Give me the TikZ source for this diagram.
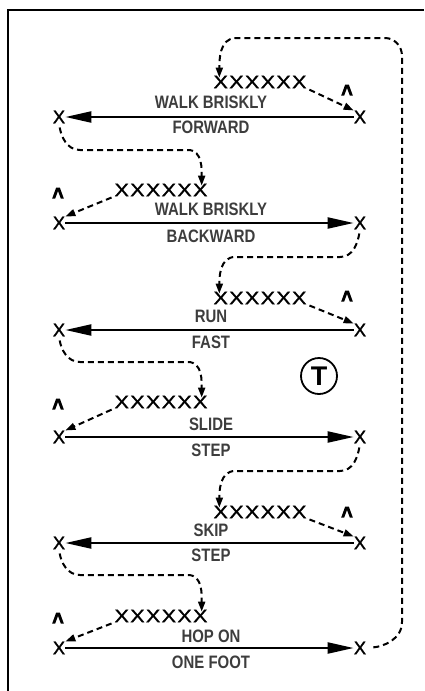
\documentclass[tikz,border=0pt]{standalone}
\usepackage{fontspec}
\setmainfont{Liberation Sans}
\newfontfamily\condfont[FakeStretch=0.83]{Liberation Sans Bold}
\newfontfamily\widefont[FakeStretch=1.2,FakeBold=1.3]{Liberation Sans}
\newfontfamily\spotfont[FakeBold=1.3]{Liberation Sans}
\usetikzlibrary{arrows.meta}
% a file of six players
\newcommand{\sixx}{X\kern1.3pt X\kern1.3pt X\kern1.3pt X\kern1.3pt X\kern1.3pt X}
\tikzset{
  caret/.pic={\fill (-5.8,5.5) -- (-1.8,-5.5) -- (1.8,-5.5) -- (5.8,5.5) -- (2.8,5.5) -- (0,-2) -- (-2.8,5.5) -- cycle;}
}
\begin{document}
\begin{tikzpicture}[x=1pt,y=-1pt,
  spot/.style={inner sep=0pt, font=\spotfont\fontsize{18.5}{18.5}\selectfont},
  crowd/.style={inner sep=0pt, font=\widefont\fontsize{18}{18}\selectfont},
  drill/.style={inner sep=0pt, font=\condfont\fontsize{18}{18}\selectfont, text=black!76},
  run/.style={line width=2.2pt, -{Triangle[length=26pt,width=11pt]}},
  trail/.style={line width=2pt, dash pattern=on 6pt off 4pt, -{Triangle[length=10pt,width=7pt]}},
]
\useasboundingbox (0,0) rectangle (424,691);

% frame
\draw[line width=2.6pt, line join=miter] (8,691) -- (8,10) -- (424,10);

% coach
\node[circle, draw, line width=1.8pt, minimum size=36pt, inner sep=0pt,
      font=\bfseries\fontsize{27}{27}\selectfont] (coach) at (319,376) {T};

% ---- row 1: walk briskly forward (right to left)
\node[spot] (a1) at (59,117) {X};
\node[spot] (b1) at (360,117) {X};
\draw[run] (b1) -- (a1);
\node[drill] (t1) at (211,102) {WALK BRISKLY};
\node[drill] (u1) at (211,127) {FORWARD};
\node[crowd] (g1) at (260,82) {\sixx};
\pic at (347,90) {caret};
\draw[trail, shorten <=3pt] (g1.south east) -- (b1.north west);

% ---- row 2: walk briskly backward (left to right)
\node[spot] (a2) at (59,223) {X};
\node[spot] (b2) at (360,223) {X};
\draw[run] (a2) -- (b2);
\node[drill] (t2) at (211,209) {WALK BRISKLY};
\node[drill] (u2) at (211,236) {BACKWARD};
\node[crowd] (g2) at (161,190) {\sixx};
\pic at (58,193) {caret};
\draw[trail, shorten <=3pt] (g2.south west) -- (a2.north east);

% ---- row 3: run fast
\node[spot] (a3) at (59,330) {X};
\node[spot] (b3) at (360,330) {X};
\draw[run] (b3) -- (a3);
\node[drill] (t3) at (211,316) {RUN};
\node[drill] (u3) at (211,342) {FAST};
\node[crowd] (g3) at (260,298) {\sixx};
\pic at (347,296) {caret};
\draw[trail, shorten <=3pt] (g3.south east) -- (b3.north west);

% ---- row 4: slide step
\node[spot] (a4) at (59,437) {X};
\node[spot] (b4) at (360,437) {X};
\draw[run] (a4) -- (b4);
\node[drill] (t4) at (211,424) {SLIDE};
\node[drill] (u4) at (211,450) {STEP};
\node[crowd] (g4) at (161,402) {\sixx};
\pic at (58,404) {caret};
\draw[trail, shorten <=3pt] (g4.south west) -- (a4.north east);

% ---- row 5: skip step
\node[spot] (a5) at (59,543) {X};
\node[spot] (b5) at (360,543) {X};
\draw[run] (b5) -- (a5);
\node[drill] (t5) at (211,530) {SKIP};
\node[drill] (u5) at (211,555) {STEP};
\node[crowd] (g5) at (260,512) {\sixx};
\pic at (347,512) {caret};
\draw[trail, shorten <=3pt] (g5.south east) -- (b5.north west);

% ---- row 6: hop on one foot
\node[spot] (a6) at (59,648) {X};
\node[spot] (b6) at (360,648) {X};
\draw[run] (a6) -- (b6);
\node[drill] (t6) at (211,636) {HOP ON};
\node[drill] (u6) at (211,662) {ONE FOOT};
\node[crowd] (g6) at (161,616) {\sixx};
\pic at (58,618) {caret};
\draw[trail, shorten <=3pt] (g6.south west) -- (a6.north east);

% ---- transitions between rows
\draw[trail, shorten <=4pt] (a1.south) to[out=-80,in=180] (80,150) -- (188,150)
      to[out=0,in=90] ([xshift=-6pt,yshift=-2pt]g2.north east);
\draw[trail, shorten <=4pt] (b2.south) to[out=-100,in=0] (340,257) -- (235,257)
      to[out=180,in=90] ([xshift=6pt,yshift=-2pt]g3.north west);
\draw[trail, shorten <=4pt] (a3.south) to[out=-80,in=180] (80,362) -- (188,362)
      to[out=0,in=90] ([xshift=-6pt,yshift=-2pt]g4.north east);
\draw[trail, shorten <=4pt] (b4.south) to[out=-100,in=0] (340,471) -- (235,471)
      to[out=180,in=90] ([xshift=6pt,yshift=-2pt]g5.north west);
\draw[trail, shorten <=4pt] (a5.south) to[out=-80,in=180] (80,575) -- (188,575)
      to[out=0,in=90] ([xshift=-6pt,yshift=-2pt]g6.north east);

% ---- back to the start
\draw[trail, shorten <=7pt] (b6.east) to[out=5,in=-90] (402,622) -- (402,56)
      to[out=90,in=0] (385,38) -- (236,38)
      to[out=180,in=90] ([xshift=6pt,yshift=-2pt]g1.north west);
\end{tikzpicture}
\end{document}
